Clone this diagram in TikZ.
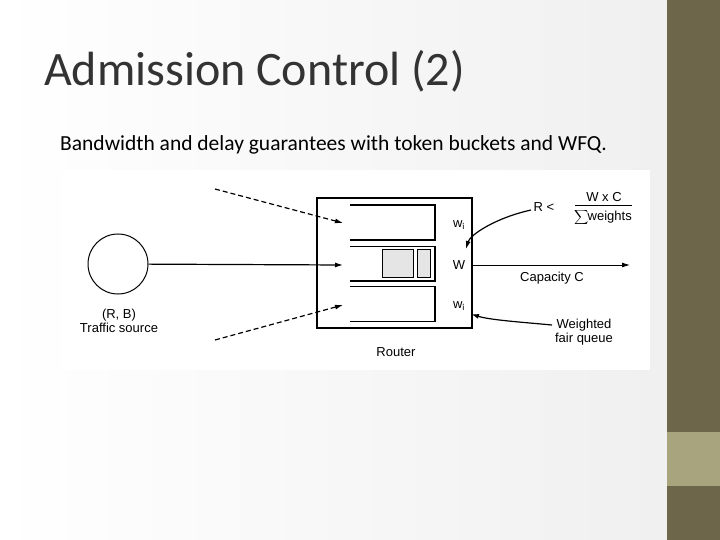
\documentclass[tikz,border=0pt]{standalone}
\usepackage{fontspec}
\setmainfont{Carlito}
\newfontfamily\arial{Liberation Sans}
\usetikzlibrary{arrows.meta}
\begin{document}
\begin{tikzpicture}[x=1pt,y=-1pt,
  lbl/.style={font=\arial\fontsize{13}{14}\selectfont,inner sep=0pt},
  q/.style={line width=1.1pt},
  arr/.style={-{Latex[length=8pt,width=5pt]},line width=1.2pt}]
\useasboundingbox (0,0) rectangle (720,540);
\shade[left color=white,right color=gray!12] (0,0) rectangle (667,540);
\fill[fill={rgb,255:red,110;green,102;blue,74}] (667,0) rectangle (720,540);
\fill[fill={rgb,255:red,168;green,165;blue,126}] (667,432) rectangle (720,486);
\node[anchor=west,inner sep=0pt,font=\fontsize{48}{52}\selectfont,text=black!80] (title) at (44,71) {Admission Control (2)};
\node[anchor=west,inner sep=0pt,font=\fontsize{21.5}{24}\selectfont] (sub) at (60,145) {Bandwidth and delay guarantees with token buckets and WFQ.};
\fill[white] (62,170) rectangle (650,370);
% source
\node[draw,circle,minimum size=60pt,line width=1pt] (src) at (118,264) {};
\node[lbl] (rb) at (119,315) {(R, B)};
\node[lbl] (ts) at (119,328) {Traffic source};
% router
\node[draw,line width=1.1pt,minimum width=155pt,minimum height=130pt,inner sep=0pt] (router) at (394.5,263) {};
\node[lbl] (rl) at (396,352) {Router};
\draw[q] (350,205) -- (435,205) -- (435,240) -- (350,240);
\draw[q] (350,246.7) -- (435,246.7) -- (435,281) -- (350,281);
\draw[q] (350,286.7) -- (435,286.7) -- (435,321.7) -- (350,321.7);
\node[draw,fill=gray!20,line width=1pt,minimum width=31pt,minimum height=28pt,inner sep=0pt] (p1) at (398.3,263.8) {};
\node[draw,fill=gray!20,line width=1pt,minimum width=13pt,minimum height=28pt,inner sep=0pt] (p2) at (423.8,263.8) {};
\node[lbl] (w1) at (459,225) {w$_{\mathrm i}$};
\node[lbl] (W) at (459,265) {W};
\node[lbl] (w2) at (459,306) {w$_{\mathrm i}$};
% inputs
\coordinate (in1) at (343,223);
\coordinate (in2) at (343,265);
\coordinate (in3) at (343,305);
\coordinate (d1) at (215,189);
\coordinate (d3) at (215,340);
\draw[arr] (src) -- (in2);
\draw[arr,dash pattern=on 5pt off 3pt] (d1) -- (in1);
\draw[arr,dash pattern=on 5pt off 3pt] (d3) -- (in3);
% output
\coordinate (out) at (630,265);
\draw[arr,line width=0.9pt] (472,265) -- (out);
\node[lbl] (cap) at (552,278) {Capacity C};
% formula
\node[lbl] (rlt) at (544,207) {R <};
\node[lbl] (num) at (604,197) {W x C};
\draw[line width=1pt] (575,206) -- (632,206);
\node[lbl] (den) at (603,218) {$\displaystyle\sum$\hspace{-1pt}weights};
\coordinate (fa) at (531,210);
\draw[arr] (fa) .. controls (495,218) and (470,235) .. (466,249);
% WFQ
\node[lbl,align=center] (wfq) at (584,332) {Weighted\\fair queue};
\draw[arr] (552,325) .. controls (520,322) and (490,320) .. (471,314);
\end{tikzpicture}
\end{document}
